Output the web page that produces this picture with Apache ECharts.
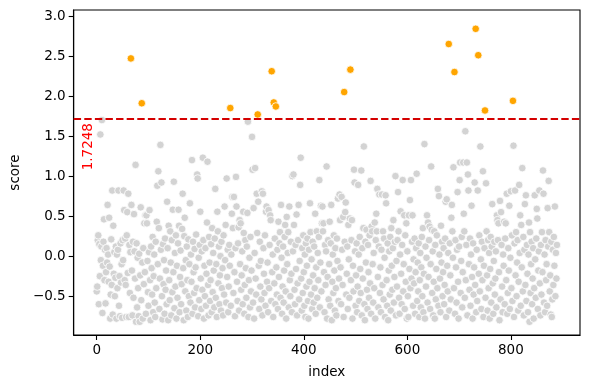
<!DOCTYPE html>
<html><head><meta charset="utf-8">
<script src="https://cdn.jsdelivr.net/npm/echarts@6/dist/echarts.min.js"></script>
<style>html,body{margin:0;padding:0;background:#fff}#c{width:590px;height:389px}</style>
</head><body><div id="c"></div>
<script>
const threshold = 1.7248;
const xTicks = [0, 200, 400, 600, 800];
const yTicks = [-0.5, 0, 0.5, 1.0, 1.5, 2.0, 2.5, 3.0];
const xRange = [-44.5, 933.5];
const yRange = [-0.985, 3.075];
const scores = [
-0.44,-0.38,0.20,0.26,-0.60,0.15,-0.25,1.52,-0.05,0.12,
1.70,-0.71,-0.12,0.18,0.46,-0.30,0.08,-0.59,-0.20,0.10,
-0.08,0.64,0.02,-0.32,0.48,-0.13,-0.78,-0.48,0.21,-0.36,
0.82,-0.73,0.38,-0.22,0.05,-0.50,-0.27,0.12,-0.78,0.02,
-0.40,0.08,0.82,-0.62,-0.25,-0.75,0.16,-0.33,-0.10,-0.77,
0.20,-0.05,0.82,0.575,-0.30,0.22,-0.36,-0.76,0.26,0.55,
-0.21,0.78,-0.76,0.14,-0.46,0.05,2.47,0.64,-0.18,-0.74,
0.18,-0.52,0.525,0.06,-0.28,1.14,-0.82,0.16,-0.64,-0.02,
-0.40,-0.75,0.03,-0.82,-0.24,0.61,-0.55,1.91,-0.08,-0.78,
0.10,-0.35,0.41,-0.20,0.51,-0.72,0.51,0.41,-0.06,-0.45,
-0.62,0.05,0.575,-0.30,-0.80,0.12,-0.15,-0.48,0.24,-0.70,
-0.25,0.02,-0.58,-0.76,0.18,-0.40,0.43,0.88,-0.10,1.06,
0.35,-0.66,-0.28,1.39,0.08,0.92,-0.50,-0.79,0.15,-0.35,
-0.05,-0.72,0.22,-0.42,-0.18,-0.60,0.68,0.10,-0.80,0.38,
-0.30,-0.55,0.31,-0.08,-0.74,0.20,-0.45,0.58,-0.20,0.93,
-0.65,0.04,-0.38,0.26,-0.78,-0.12,-0.52,0.16,0.58,0.38,
-0.70,-0.26,0.07,-0.60,-0.35,0.34,0.78,-0.15,-0.80,0.25,
0.48,-0.44,-0.05,-0.68,0.12,-0.30,-0.76,0.21,-0.50,-0.10,
0.66,-0.58,0.02,-0.32,1.20,-0.72,0.18,-0.20,-0.46,0.09,
-0.64,-0.14,0.27,-0.40,1.02,0.97,-0.75,-0.02,-0.55,0.14,
0.555,-0.28,-0.66,0.06,-0.42,1.23,0.20,-0.78,-0.12,-0.50,
0.10,-0.62,-0.22,0.42,1.18,-0.36,-0.74,0.24,-0.08,-0.56,
-0.30,0.15,-0.70,0.35,-0.45,0.04,-0.18,-0.64,0.22,0.84,
-0.52,-0.10,-0.76,0.555,0.31,-0.34,0.12,-0.60,-0.24,0.00,
-0.68,0.18,-0.40,-0.15,-0.74,0.26,-0.48,0.62,-0.05,0.39,
-0.58,0.97,-0.26,0.08,-0.70,-0.38,0.14,-0.12,1.85,-0.62,
0.02,0.53,0.74,0.35,-0.46,0.74,-0.20,-0.75,0.10,0.99,
0.62,-0.32,-0.56,0.16,0.36,-0.68,0.45,-0.10,0.41,-0.42,
-0.24,0.06,-0.60,0.555,0.29,-0.72,-0.36,0.20,-0.15,-0.52,
0.12,0.54,1.68,-0.76,-0.30,-0.02,-0.64,0.24,-0.44,-0.18,
1.49,1.08,-0.58,0.60,-0.78,0.04,1.10,-0.28,-0.48,0.78,
0.29,1.77,0.68,-0.12,-0.66,0.18,-0.38,-0.06,-0.54,0.81,
-0.74,0.78,0.10,-0.22,-0.46,0.26,-0.62,0.555,0.62,-0.32,
-0.08,-0.70,0.575,-0.40,0.14,0.51,0.45,-0.56,2.31,-0.20,
0.02,-0.76,1.92,-0.34,0.22,-0.60,1.87,-0.14,-0.48,0.08,
-0.66,0.43,-0.26,0.16,0.30,-0.52,0.64,-0.02,-0.72,-0.38,
0.12,-0.58,-0.18,0.24,0.39,-0.44,-0.78,0.49,-0.10,0.04,
0.30,-0.64,0.62,-0.30,-0.50,0.18,-0.22,-0.70,1.00,0.06,
1.02,0.39,-0.42,-0.60,0.14,-0.16,0.52,-0.74,-0.34,0.20,
0.64,-0.54,-0.06,0.89,1.23,-0.28,-0.68,0.10,-0.46,0.26,
-0.20,-0.62,0.02,-0.76,0.16,-0.38,-0.12,0.22,-0.56,-0.78,
0.08,-0.32,0.66,0.30,-0.48,-0.04,-0.66,0.18,-0.24,-0.58,
0.12,-0.40,0.53,-0.72,-0.14,0.31,-0.52,0.04,-0.30,0.24,
0.95,-0.64,-0.08,0.63,-0.44,0.41,0.62,0.31,0.41,-0.20,
-0.70,0.14,-0.36,0.06,1.12,-0.78,-0.26,0.20,-0.54,-0.10,
0.43,-0.62,0.16,0.64,-0.80,-0.32,0.02,-0.46,0.26,-0.18,
-0.68,0.10,-0.40,-0.74,0.22,-0.06,0.72,-0.56,-0.28,0.77,
0.45,-0.14,-0.60,0.74,0.08,-0.36,0.49,-0.76,2.05,0.18,
0.55,0.67,-0.48,-0.22,0.12,-0.66,0.39,-0.04,-0.52,0.47,
2.33,-0.30,0.20,0.45,-0.78,-0.12,-0.44,1.08,0.92,0.06,
-0.62,-0.24,0.16,-0.70,-0.38,0.89,0.02,-0.56,0.24,-0.16,
-0.46,1.07,-0.74,0.10,-0.28,0.35,1.37,-0.60,-0.80,0.18,
-0.08,0.33,-0.42,-0.66,0.14,-0.20,-0.52,0.26,-0.34,0.94,
-0.72,0.37,0.31,-0.10,-0.58,0.04,-0.40,0.42,-0.78,0.20,
0.53,0.31,0.84,-0.26,-0.64,0.12,0.77,-0.46,-0.14,-0.70,
0.08,0.77,-0.36,0.31,-0.54,0.22,-0.02,-0.76,0.76,0.66,
-0.30,-0.62,0.16,-0.80,-0.18,0.06,-0.48,0.24,-0.68,0.35,
-0.12,-0.42,0.10,0.45,-0.58,-0.26,0.18,1.00,-0.74,-0.06,
-0.38,0.20,0.80,0.31,-0.52,-0.72,0.02,0.56,-0.22,-0.60,
0.14,0.95,-0.44,-0.10,0.51,-0.66,0.26,-0.32,0.41,-0.78,
0.06,-0.50,-0.76,0.51,-0.16,0.70,-0.40,0.95,-0.28,0.18,
0.51,-0.62,-0.04,-0.34,0.22,-0.72,-0.20,0.10,1.03,-0.56,
-0.08,-0.44,0.16,-0.76,-0.30,0.04,-0.64,-0.14,0.24,-0.50,
0.35,-0.70,-0.22,1.40,-0.78,0.12,-0.38,-0.02,0.51,-0.58,
0.42,-0.26,0.20,0.37,-0.66,-0.10,1.12,0.33,-0.46,0.06,
-0.74,-0.32,0.31,-0.78,0.14,-0.54,-0.16,0.26,-0.40,0.84,
-0.62,0.75,0.02,-0.28,-0.70,0.38,-0.08,0.18,-0.50,-0.20,
0.10,-0.60,-0.36,0.22,0.68,-0.76,0.71,-0.12,-0.44,0.04,
2.65,-0.68,0.16,-0.24,-0.54,0.48,0.64,0.31,-0.02,1.11,
-0.40,2.30,-0.72,0.20,-0.14,-0.58,0.08,0.80,-0.32,-0.78,
0.12,0.95,1.17,-0.46,-0.06,0.24,-0.64,-0.20,1.17,0.53,
0.31,-0.52,1.56,-0.30,0.14,1.17,-0.74,1.02,0.82,-0.10,
-0.42,0.22,-0.62,0.02,0.63,-0.26,-0.78,0.16,-0.48,-0.14,
0.92,-0.36,2.84,-0.70,0.08,-0.56,0.82,2.51,-0.22,0.26,
-0.44,1.37,-0.04,-0.66,0.18,-0.30,1.06,-0.76,-0.12,0.10,
1.82,-0.52,0.91,0.31,-0.24,-0.68,0.20,-0.40,0.04,-0.78,
-0.16,0.24,-0.58,0.12,0.65,-0.34,-0.72,-0.06,0.18,-0.48,
-0.28,0.06,-0.64,0.51,0.45,0.20,0.41,-0.20,-0.80,0.69,
-0.54,0.55,0.14,-0.38,-0.70,0.02,-0.12,0.43,-0.60,0.22,
0.41,-0.30,0.78,-0.72,-0.46,0.10,-0.18,0.63,-0.66,-0.02,
0.81,-0.40,0.26,-0.56,1.94,1.38,-0.76,0.16,0.82,-0.24,
0.30,-0.50,-0.08,0.20,-0.68,-0.32,0.89,0.04,0.51,-0.62,
0.39,-0.14,1.10,-0.44,0.24,-0.74,0.08,0.65,-0.36,0.76,
-0.56,0.14,-0.22,-0.70,0.02,0.42,-0.82,0.30,-0.46,-0.10,
0.18,-0.60,-0.28,0.10,-0.78,-0.40,0.76,-0.04,-0.52,0.22,
0.59,0.47,-0.66,-0.18,0.06,0.82,-0.34,-0.74,0.14,-0.48,
0.30,-0.20,1.07,0.78,-0.58,0.02,-0.70,0.20,-0.30,-0.10,
-0.62,0.60,0.12,0.94,0.30,-0.44,-0.24,-0.73,0.18,-0.76,
-0.54,0.08,-0.36,0.24,-0.12,0.62,-0.50,0.04,-0.28,0.14
];

const normalPts = [], outlierPts = [];
scores.forEach((v, i) => { (v > threshold ? outlierPts : normalPts).push([i, v]); });

const font = 'DejaVu Sans';
const fmtNum = v => (v < 0 ? '\u2212' : '') + Math.abs(v).toFixed(1);

const chart = echarts.init(document.getElementById('c'), null, {renderer: 'canvas'});
chart.setOption({
  animation: false,
  backgroundColor: '#fff',
  grid: {left: 73, right: 10, top: 10, bottom: 54, show: true, borderColor: '#000', borderWidth: 1.1, backgroundColor: 'transparent'},
  xAxis: {
    type: 'value', min: xRange[0], max: xRange[1],
    name: 'index', nameLocation: 'middle', nameGap: 30,
    nameTextStyle: {fontFamily: font, fontSize: 13.5, color: '#000'},
    axisLine: {show: true, onZero: false, lineStyle: {color: '#000', width: 1.1}},
    axisTick: {show: true, inside: false, length: 5, lineStyle: {color: '#000', width: 1.1}, customValues: xTicks},
    axisLabel: {show: true, margin: 8, fontFamily: font, fontSize: 13.5, color: '#000', customValues: xTicks, formatter: v => String(v)},
    splitLine: {show: false}
  },
  yAxis: {
    type: 'value', min: yRange[0], max: yRange[1],
    name: 'score', nameLocation: 'middle', nameGap: 50, nameRotate: 90,
    nameTextStyle: {fontFamily: font, fontSize: 13.5, color: '#000'},
    axisLine: {show: true, onZero: false, lineStyle: {color: '#000', width: 1.1}},
    axisTick: {show: true, inside: false, length: 5, lineStyle: {color: '#000', width: 1.1}, customValues: yTicks},
    axisLabel: {show: true, margin: 8, fontFamily: font, fontSize: 13.5, color: '#000', customValues: yTicks, formatter: v => fmtNum(v)},
    splitLine: {show: false}
  },
  series: [
    {
      type: 'scatter', name: 'normal', data: normalPts, symbol: 'circle', symbolSize: 7.6,
      itemStyle: {color: '#d3d3d3', borderColor: '#fff', borderWidth: 0.8, opacity: 1},
      emphasis: {disabled: true},
      markLine: {
        silent: true, symbol: 'none', animation: false,
        label: {show: false},
        lineStyle: {color: '#d40000', width: 2, type: [7.4, 3.2]},
        data: [{yAxis: threshold}]
      }
    },
    {
      type: 'scatter', name: 'outlier', data: outlierPts, symbol: 'circle', symbolSize: 7.6,
      itemStyle: {color: '#ffa500', borderColor: '#fff', borderWidth: 0.8, opacity: 1},
      emphasis: {disabled: true}
    }
  ]
});

const anchor = chart.convertToPixel({gridIndex: 0}, [-16, threshold]);
chart.setOption({
  graphic: [{
    type: 'text', x: anchor[0], y: anchor[1] + 5, rotation: Math.PI / 2,
    style: {text: threshold.toFixed(4), fill: '#ff0000', fontFamily: font, fontSize: 13.5, align: 'right', verticalAlign: 'middle'}
  }]
});
</script>
</body></html>
